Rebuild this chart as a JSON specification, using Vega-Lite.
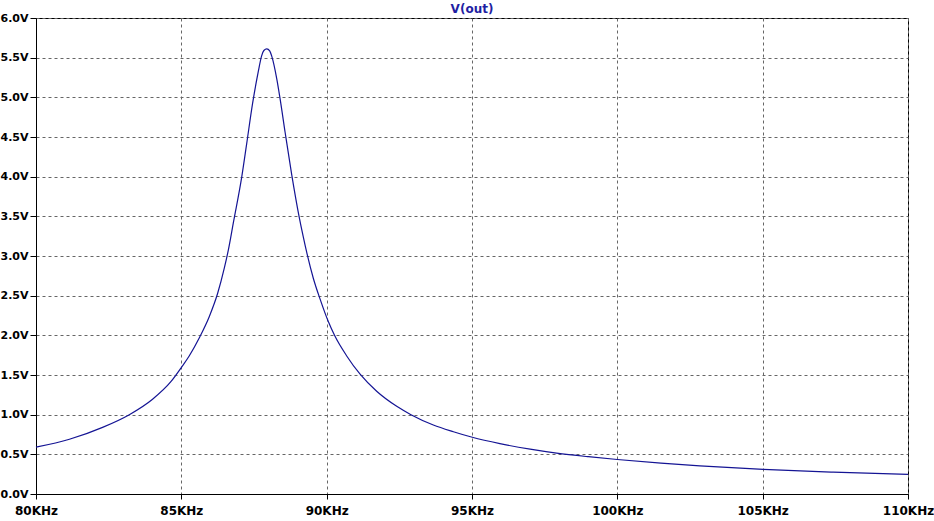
{
  "$schema": "https://vega.github.io/schema/vega-lite/v6.json",
  "width": 872,
  "height": 476,
  "autosize": "none",
  "padding": {"left": 36, "top": 18, "right": 26, "bottom": 27},
  "background": "white",
  "title": {
    "text": "V(out)",
    "anchor": "middle",
    "offset": -4,
    "font": "DejaVu Sans",
    "fontSize": 12,
    "fontWeight": "bold",
    "color": "#1f1fa3"
  },
  "config": {
    "view": {"stroke": "black", "strokeWidth": 1},
    "axis": {
      "labelFont": "DejaVu Sans",
      "labelFontWeight": "bold",
      "labelColor": "black",
      "domainColor": "black",
      "tickColor": "black",
      "gridColor": "#666666",
      "gridDash": [3, 3],
      "gridOpacity": 1,
      "title": null
    }
  },
  "data": {
    "values": [
      {"f": 80.00, "v": 0.59},
      {"f": 81.15, "v": 0.69},
      {"f": 82.29, "v": 0.84},
      {"f": 83.21, "v": 1.00},
      {"f": 84.01, "v": 1.195},
      {"f": 84.64, "v": 1.416},
      {"f": 85.01, "v": 1.60},
      {"f": 85.27, "v": 1.74},
      {"f": 85.62, "v": 1.97},
      {"f": 85.96, "v": 2.235},
      {"f": 86.25, "v": 2.53},
      {"f": 86.48, "v": 2.85},
      {"f": 86.62, "v": 3.08},
      {"f": 86.79, "v": 3.42},
      {"f": 87.08, "v": 4.00},
      {"f": 87.25, "v": 4.42},
      {"f": 87.45, "v": 4.92},
      {"f": 87.65, "v": 5.33},
      {"f": 87.76, "v": 5.52},
      {"f": 87.84, "v": 5.59},
      {"f": 87.94, "v": 5.61},
      {"f": 88.04, "v": 5.585},
      {"f": 88.11, "v": 5.52},
      {"f": 88.28, "v": 5.24},
      {"f": 88.39, "v": 5.00},
      {"f": 88.57, "v": 4.56},
      {"f": 88.80, "v": 4.02},
      {"f": 89.05, "v": 3.50},
      {"f": 89.19, "v": 3.25},
      {"f": 89.33, "v": 3.02},
      {"f": 89.54, "v": 2.72},
      {"f": 89.78, "v": 2.45},
      {"f": 90.06, "v": 2.17},
      {"f": 90.27, "v": 2.00},
      {"f": 90.69, "v": 1.74},
      {"f": 91.15, "v": 1.51},
      {"f": 91.72, "v": 1.295},
      {"f": 92.41, "v": 1.105},
      {"f": 92.90, "v": 1.00},
      {"f": 93.67, "v": 0.87},
      {"f": 94.36, "v": 0.785},
      {"f": 95.01, "v": 0.715},
      {"f": 95.96, "v": 0.635},
      {"f": 97.00, "v": 0.565},
      {"f": 97.91, "v": 0.515},
      {"f": 99.00, "v": 0.47},
      {"f": 100.00, "v": 0.435},
      {"f": 101.50, "v": 0.39},
      {"f": 102.84, "v": 0.355},
      {"f": 105.02, "v": 0.31},
      {"f": 107.43, "v": 0.275},
      {"f": 110.00, "v": 0.247}
    ]
  },
  "mark": {"type": "line", "color": "#141494", "strokeWidth": 1.2, "interpolate": "monotone"},
  "encoding": {
    "x": {
      "field": "f",
      "type": "quantitative",
      "scale": {"domain": [80, 110], "nice": false, "zero": false},
      "axis": {
        "values": [80, 85, 90, 95, 100, 105, 110],
        "labelExpr": "datum.value + 'KHz'",
        "labelFontSize": 12,
        "tickSize": 5,
        "labelPadding": 6,
        "labelFlush": false,
        "labelOverlap": false
      }
    },
    "y": {
      "field": "v",
      "type": "quantitative",
      "scale": {"domain": [0, 6], "nice": false},
      "axis": {
        "values": [0, 0.5, 1, 1.5, 2, 2.5, 3, 3.5, 4, 4.5, 5, 5.5, 6],
        "labelExpr": "format(datum.value, '.1f') + 'V'",
        "labelFontSize": 11,
        "tickSize": 6,
        "labelPadding": 2,
        "labelFlush": false,
        "labelOverlap": false
      }
    }
  }
}
